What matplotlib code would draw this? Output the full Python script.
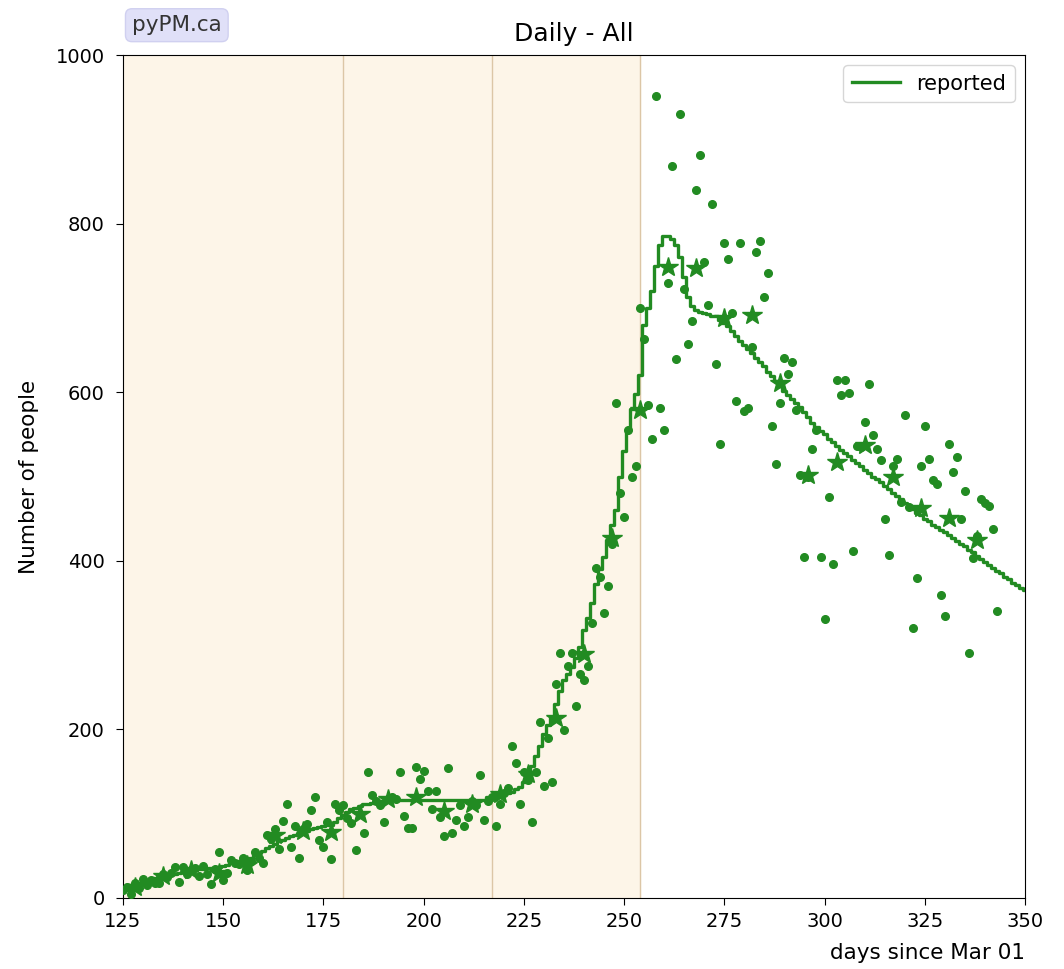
import numpy as np
import matplotlib.pyplot as plt

# daily reported counts, days 125..343 since Mar 01
day0 = 125
daily = [10, 13, 5, 18, 12, 22, 15, 21, 18, 18,
         28, 25, 30, 37, 19, 37, 28, 33, 36, 26,
         38, 28, 17, 34, 55, 21, 30, 45, 42, 40,
         47, 33, 44, 55, 48, 41, 75, 70, 82, 58,
         91, 112, 60, 85, 48, 82, 88, 104, 120, 69,
         61, 90, 46, 112, 104, 110, 95, 89, 57, 100,
         77, 149, 122, 115, 110, 90, 118, 120, 118, 149,
         97, 83, 83, 155, 141, 151, 127, 105, 127, 96,
         74, 154, 77, 93, 110, 85, 96, 115, 110, 146,
         93, 115, 120, 85, 112, 125, 130, 180, 160, 111,
         150, 140, 90, 150, 209, 133, 190, 138, 254, 291,
         199, 275, 291, 228, 266, 259, 275, 326, 391, 381,
         338, 370, 420, 587, 481, 452, 555, 500, 512, 700,
         663, 585, 544, 951, 581, 555, 729, 868, 639, 930,
         723, 657, 685, 840, 882, 755, 703, 823, 634, 539,
         777, 758, 694, 590, 777, 578, 581, 654, 766, 779,
         713, 742, 560, 515, 587, 640, 622, 636, 579, 502,
         404, 500, 533, 555, 404, 331, 476, 396, 615, 597,
         615, 599, 412, 536, 535, 565, 610, 549, 533, 520,
         449, 407, 512, 521, 470, 573, 464, 320, 380, 512,
         560, 521, 496, 491, 359, 334, 539, 505, 523, 450,
         483, 291, 403, 430, 473, 468, 465, 438, 341]

# weekly averages
week_days = [128, 135, 142, 149, 156, 163, 170, 177, 184, 191, 198,
             205, 212, 219, 226, 233, 240, 247, 254, 261, 268, 275,
             282, 289, 296, 303, 310, 317, 324, 331, 338]
weekly = [13, 26, 33, 30, 39, 75, 80, 78, 100, 117, 120,
          103, 111, 123, 147, 214, 290, 427, 579, 749, 747, 688,
          692, 611, 502, 517, 537, 500, 463, 451, 425]

# model expectation, days 125..350
model = [12, 14, 15, 17, 18, 20, 21, 22, 24, 25,
         26, 27, 28, 29, 30, 31, 32, 32, 33, 34,
         34, 35, 36, 36, 37, 38, 39, 41, 42, 44,
         45, 47, 48, 51, 53, 56, 59, 62, 64, 67,
         69, 71, 73, 75, 77, 79, 80, 82, 83, 84,
         85, 86, 87, 90, 95, 99, 102, 105, 107, 109,
         111, 112, 113, 114, 115, 115, 116, 116, 116, 116,
         116, 116, 116, 116, 116, 116, 116, 116, 116, 116,
         116, 116, 116, 116, 116, 116, 116, 116, 116, 116,
         116, 120, 121, 122, 122, 123, 124, 126, 129, 132,
         138, 146, 156, 168, 180, 195, 205, 215, 230, 245,
         258, 266, 274, 285, 298, 318, 332, 350, 372, 390,
         405, 425, 442, 460, 500, 530, 555, 580, 598, 620,
         680, 700, 720, 750, 775, 785, 785, 782, 775, 760,
         737, 713, 702, 697, 695, 694, 693, 691, 690, 686,
         682, 678, 673, 667, 661, 656, 651, 646, 641, 636,
         631, 624, 619, 613, 607, 602, 597, 592, 587, 582,
         577, 571, 564, 559, 554, 550, 545, 541, 536, 532,
         528, 524, 520, 516, 512, 508, 504, 500, 497, 493,
         489, 485, 481, 477, 473, 469, 465, 461, 457, 454,
         450, 447, 443, 440, 437, 434, 431, 427, 424, 420,
         417, 413, 410, 406, 402, 399, 395, 392, 388, 385,
         381, 378, 374, 371, 368, 365]

# intervention boundaries (days)
breaks = [125, 180, 217, 254]

days = np.arange(day0, day0 + len(daily))
model_days = np.arange(day0, day0 + len(model))

fig = plt.figure(figsize=(10.64, 9.69), dpi=100)
ax = fig.add_axes([0.1156, 0.0733, 0.8477, 0.8699])

for i in range(len(breaks) - 1):
    ax.axvspan(breaks[i], breaks[i + 1], color='#fdf5e8', zorder=0)
for b in breaks[1:]:
    ax.axvline(b, color='#dcc6a6', lw=1, zorder=1)

green = 'forestgreen'
ax.plot(model_days, model, color=green, lw=2.4, drawstyle='steps-mid',
        label='reported', zorder=3)
ax.plot(days, daily, 'o', color=green, markersize=5.5, zorder=4)
ax.plot(week_days, weekly, '*', color=green, markersize=15, zorder=4)

ax.set_xlim(125, 350)
ax.set_ylim(0, 1000)
ax.set_xticks([125, 150, 175, 200, 225, 250, 275, 300, 325, 350])
ax.set_yticks([0, 200, 400, 600, 800, 1000])
ax.tick_params(labelsize=14, length=5, pad=5)
ax.tick_params(axis='y', pad=8)
ax.set_title('Daily - All', fontsize=18, pad=10)
ax.set_xlabel('days since Mar 01', fontsize=15.5, loc='right', labelpad=9)
ax.set_ylabel('Number of people', fontsize=15.5, labelpad=12)
ax.legend(loc='upper right', fontsize=15, handlelength=2.3)

fig.text(0.124, 0.974, 'pyPM.ca', fontsize=15.5, color='#333333', va='center',
         bbox=dict(boxstyle='round,pad=0.3', facecolor='#e0e0f8',
                   edgecolor='#d0d0f0'))

fig.savefig('out.png', dpi=100)
